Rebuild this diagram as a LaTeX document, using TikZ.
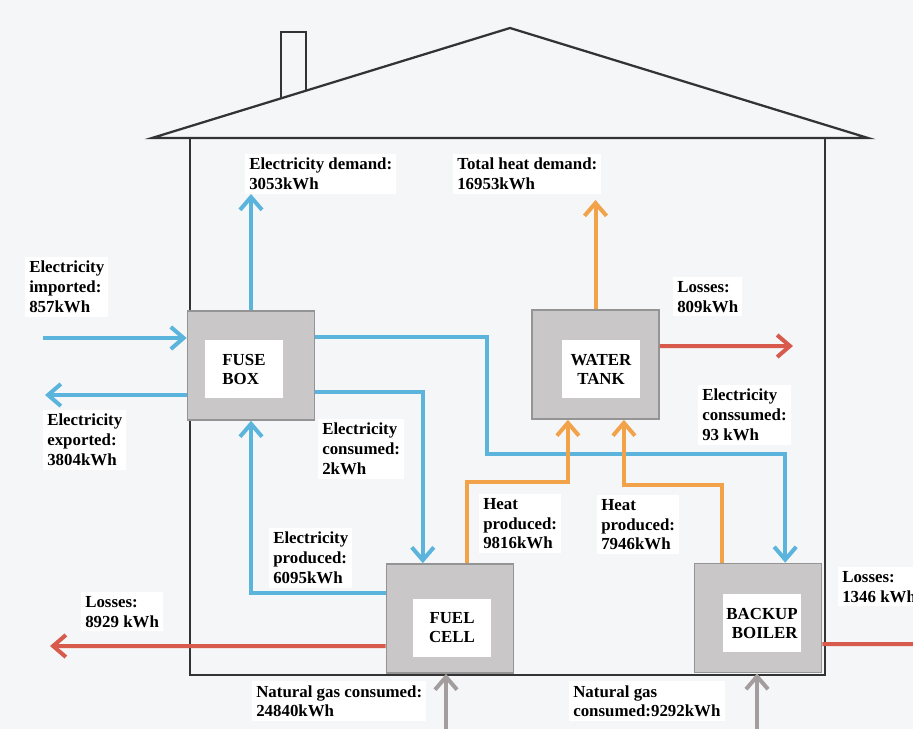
\documentclass[tikz,border=0pt]{standalone}
\usepackage{fontspec}
\setmainfont{Liberation Serif}
\usetikzlibrary{arrows.meta}
\definecolor{flowBlue}{HTML}{5AB4DC}
\definecolor{flowOrange}{HTML}{F2A34A}
\definecolor{flowRed}{HTML}{D85A4D}
\definecolor{flowGray}{HTML}{A49D9D}
\definecolor{boxGray}{HTML}{C9C7C8}
\definecolor{boxEdge}{HTML}{949494}
\definecolor{paperBg}{HTML}{F5F6F8}

\begin{document}
\begin{tikzpicture}[
    x=0.025cm, y=-0.025cm,
    house/.style={draw=black!80, line width=1.6pt},
    unit/.style={rectangle, draw=boxEdge, fill=boxGray, line width=1pt,
                 minimum width=3.18cm, minimum height=2.73cm, inner sep=0pt},
    tag/.style={rectangle, fill=white, minimum width=1.95cm, minimum height=1.45cm,
                font=\fontsize{12}{13.5}\selectfont\bfseries, align=center, inner sep=2pt},
    lbl/.style={rectangle, fill=white, anchor=north west, inner sep=0.1cm,
                font=\fontsize{12}{14}\selectfont\bfseries, align=left},
    flow/.style={line width=0.1cm, -{Straight Barb[length=0.32cm, width=0.55cm]}},
    elec/.style={flow, draw=flowBlue},
    heat/.style={flow, draw=flowOrange},
    loss/.style={flow, draw=flowRed},
    gas/.style={flow, draw=flowGray},
  ]
    \useasboundingbox (0,0) rectangle (913,729);
    \fill[paperBg] (0,0) rectangle (913,729);

    % house outline
    \draw[house] (152,138) -- (510,28) -- (868,138) -- cycle;
    \draw[house] (281,98) -- (281,32) -- (306,32) -- (306,91);
    \draw[house] (190,138) -- (190,675) -- (825,675) -- (825,138);

    % labels
    \node[lbl] (impL) at (25,257) {Electricity\\imported:\\857kWh};
    \node[lbl] (expL) at (43,410) {Electricity\\exported:\\3804kWh};
    \node[lbl] (demL) at (245,154) {Electricity demand:\\3053kWh};
    \node[lbl] (heatL) at (453,154) {Total heat demand:\\16953kWh};
    \node[lbl] (tankLossL) at (673,277) {Losses:\\809kWh};
    \node[lbl] (boilElecL) at (698,385) {Electricity\\conssumed:\\93 kWh};
    \node[lbl] (fuelElecL) at (318,419) {Electricity\\consumed:\\2kWh};
    \node[lbl] (prodL) at (269,528) {Electricity\\produced:\\6095kWh};
    \node[lbl] (fuelHeatL) at (479,494) {Heat\\produced:\\9816kWh};
    \node[lbl] (boilHeatL) at (597,495) {Heat\\produced:\\7946kWh};
    \node[lbl] (fuelLossL) at (81,592) {Losses:\\8929 kWh};
    \node[lbl] (boilLossL) at (838,567) {Losses:\\1346 kWh};
    \node[lbl] (fuelGasL) at (252,681) {Natural gas consumed:\\24840kWh};
    \node[lbl] (boilGasL) at (569,681) {Natural gas\\consumed:9292kWh};

    % units
    \node[unit] (fuse) at (251,365.5) {};
    \node[unit] (tank) at (595.5,364.5) {};
    \node[unit] (fuel) at (450,618.5) {};
    \node[unit] (boiler) at (758,618) {};
    \node[tag, align=left] (fuseT) at (244,369) {FUSE\\BOX};
    \node[tag] (tankT) at (601,369) {WATER\\TANK};
    \node[tag] (fuelT) at (452,628) {FUEL\\CELL};
    \node[tag, align=right] (boilerT) at (762,623) {BACKUP\\BOILER};

    % free ends
    \coordinate (impS) at (43,338);
    \coordinate (expE) at (45,395);
    \coordinate (demE) at (251,194);
    \coordinate (heatE) at (595.5,200);
    \coordinate (tankLossE) at (793,346);
    \coordinate (fuelLossE) at (50,646);
    \coordinate (boilLossE) at (940,644);
    \coordinate (fuelGasS) at (446,745);
    \coordinate (boilGasS) at (757,745);

    % electricity
    \draw[elec] (impS) -- (impS -| fuse.west);
    \draw[elec] (expE -| fuse.west) -- (expE);
    \draw[elec] (fuse.north) -- (demE);
    \draw[elec] ([yshift=0.71cm]fuse.east) -| (487,454) -| ([xshift=0.68cm]boiler.north);
    \draw[elec] ([yshift=-0.66cm]fuse.east) -| ([xshift=-0.68cm]fuel.north);
    \draw[elec] ([yshift=0.64cm]fuel.west) -| (fuse.south);

    % heat
    \draw[heat] (tank.north) -- (heatE);
    \draw[heat] ([xshift=0.43cm]fuel.north) |- ([xshift=-0.69cm,yshift=-1.55cm]tank.south)
      -- ([xshift=-0.69cm]tank.south);
    \draw[heat] ([xshift=-0.9cm]boiler.north) |- ([xshift=0.71cm,yshift=-1.63cm]tank.south)
      -- ([xshift=0.71cm]tank.south);

    % losses
    \draw[loss] ([yshift=0.46cm]tank.east) -- (tankLossE);
    \draw[loss] ([yshift=-0.69cm]fuel.west) -- (fuelLossE);
    \draw[loss] ([yshift=-0.65cm]boiler.east) -- (boilLossE);

    % gas
    \draw[gas] (fuelGasS) -- (fuelGasS |- fuel.south);
    \draw[gas] (boilGasS) -- (boilGasS |- boiler.south);
  \end{tikzpicture}
\end{document}
